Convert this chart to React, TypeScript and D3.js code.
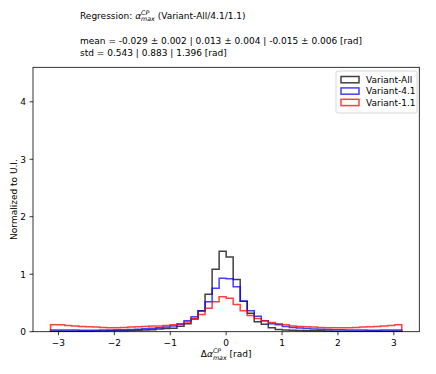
import React from "react";
import * as d3 from "d3";

const NBINS = 50;
const binEdges: number[] = d3.range(NBINS + 1).map((k) => -Math.PI + (k * 2 * Math.PI) / NBINS);

const variantAll: number[] = [
  0.01, 0.01, 0.01, 0.01, 0.01, 0.01, 0.012, 0.012, 0.015, 0.015,
  0.018, 0.02, 0.025, 0.03, 0.035, 0.045, 0.055, 0.06, 0.094, 0.14,
  0.22, 0.365, 0.65, 1.085, 1.4, 1.3, 0.91, 0.53, 0.32, 0.175,
  0.13, 0.07, 0.04, 0.03, 0.025, 0.02, 0.018, 0.015, 0.015, 0.012,
  0.01, 0.01, 0.01, 0.01, 0.01, 0.01, 0.01, 0.01, 0.01, 0.01,
];
const variant41: number[] = [
  0.03, 0.03, 0.028, 0.028, 0.027, 0.027, 0.027, 0.028, 0.03, 0.032,
  0.035, 0.038, 0.042, 0.05, 0.06, 0.07, 0.08, 0.1, 0.13, 0.19,
  0.26, 0.36, 0.52, 0.755, 0.93, 0.92, 0.78, 0.53, 0.365, 0.27,
  0.19, 0.14, 0.12, 0.09, 0.075, 0.065, 0.055, 0.048, 0.042, 0.038,
  0.035, 0.032, 0.03, 0.028, 0.028, 0.027, 0.027, 0.028, 0.028, 0.03,
];
const variant11: number[] = [
  0.12, 0.12, 0.11, 0.1, 0.09, 0.085, 0.08, 0.075, 0.07, 0.07,
  0.075, 0.08, 0.085, 0.09, 0.1, 0.1, 0.11, 0.12, 0.14, 0.17,
  0.23, 0.3, 0.41, 0.52, 0.61, 0.58, 0.475, 0.365, 0.28, 0.23,
  0.19, 0.16, 0.14, 0.12, 0.1, 0.09, 0.085, 0.08, 0.075, 0.07,
  0.07, 0.07, 0.07, 0.075, 0.08, 0.085, 0.09, 0.1, 0.11, 0.12,
];

const seriesNames = ["Variant-All", "Variant-4.1", "Variant-1.1"];
const seriesValues = [variantAll, variant41, variant11];
const seriesColors = ["#000000", "#0000ff", "#ff0000"];

const xTicks = [-3, -2, -1, 0, 1, 2, 3];
const yTicks = [0, 1, 2, 3, 4];

const W = 436;
const H = 374;
const L = 33, R = 419.3, T = 67.3, B = 331.7;
const FONT = "DejaVu Sans, sans-serif";
const FS = 9;

export default function App() {
  const x = d3.scaleLinear().domain([-Math.PI * 1.1, Math.PI * 1.1]).range([L, R]);
  const y = d3.scaleLinear().domain([0, 4.6]).range([B, T]);

  const stepPath = (vals: number[]) => {
    const pts: [number, number][] = [[binEdges[0], 0]];
    vals.forEach((v, i) => {
      pts.push([binEdges[i], v]);
      pts.push([binEdges[i + 1], v]);
    });
    pts.push([binEdges[NBINS], 0]);
    return d3.line<[number, number]>().x((d) => x(d[0])).y((d) => y(d[1]))(pts) || "";
  };

  const fmt = (t: number) => (t < 0 ? "\u2212" + Math.abs(t) : String(t));

  return (
    <svg width={W} height={H} style={{ position: "absolute", left: 0, top: 0, background: "#fff" }} fontFamily={FONT}>
      <rect x={0} y={0} width={W} height={H} fill="#fff" />
      {/* header text */}
      <text x={80} y={18.5} fontSize={FS} fill="#000">
        Regression:{" "}
        <tspan fontStyle="italic">α</tspan>
        <tspan fontStyle="italic" fontSize={6.3} dy={-4}>CP</tspan>
        <tspan fontStyle="italic" fontSize={6.3} dx={-8.2} dy={6.5}>max</tspan>
        <tspan dy={-2.5}> (Variant-All/4.1/1.1)</tspan>
      </text>
      <text x={80} y={43.5} fontSize={FS} fill="#000">
        mean = -0.029 ± 0.002 | 0.013 ± 0.004 | -0.015 ± 0.006 [rad]
      </text>
      <text x={80} y={55.8} fontSize={FS} fill="#000">
        std = 0.543 | 0.883 | 1.396 [rad]
      </text>

      {/* histograms */}
      {seriesValues.map((vals, i) => (
        <path key={i} d={stepPath(vals)} fill="none" stroke={seriesColors[i]} strokeWidth={1.5} strokeOpacity={0.75} strokeLinejoin="miter" />
      ))}

      {/* frame */}
      <rect x={L} y={T} width={R - L} height={B - T} fill="none" stroke="#000" strokeWidth={0.8} />

      {/* x ticks */}
      {xTicks.map((t) => (
        <g key={t}>
          <line x1={x(t)} x2={x(t)} y1={B} y2={B + 3.5} stroke="#000" strokeWidth={0.8} />
          <text x={x(t)} y={B + 13.8} fontSize={FS} textAnchor="middle" fill="#000">{fmt(t)}</text>
        </g>
      ))}
      {/* y ticks */}
      {yTicks.map((t) => (
        <g key={t}>
          <line x1={L - 3.5} x2={L} y1={y(t)} y2={y(t)} stroke="#000" strokeWidth={0.8} />
          <text x={L - 7} y={y(t) + 3.3} fontSize={FS} textAnchor="end" fill="#000">{t}</text>
        </g>
      ))}

      {/* x label */}
      <text x={(L + R) / 2} y={357} fontSize={FS} textAnchor="middle" fill="#000">
        Δ<tspan fontStyle="italic">α</tspan>
        <tspan fontStyle="italic" fontSize={6.3} dy={-4}>CP</tspan>
        <tspan fontStyle="italic" fontSize={6.3} dx={-8.2} dy={6.5}>max</tspan>
        <tspan dy={-2.5}> [rad]</tspan>
      </text>
      {/* y label */}
      <text transform={`translate(16.5, ${(T + B) / 2}) rotate(-90)`} fontSize={FS} textAnchor="middle" fill="#000">
        Normalized to U.I.
      </text>

      {/* legend */}
      <rect x={336} y={71} width={81} height={42} rx={2} fill="#fff" fillOpacity={0.8} stroke="#cccccc" strokeWidth={0.8} />
      {seriesNames.map((n, i) => (
        <g key={n}>
          <rect x={341} y={76.5 + i * 11.4} width={18} height={6.3} fill="none" stroke={seriesColors[i]} strokeWidth={1.5} strokeOpacity={0.75} />
          <text x={366} y={82.8 + i * 11.4} fontSize={FS} fill="#000">{n}</text>
        </g>
      ))}
    </svg>
  );
}
